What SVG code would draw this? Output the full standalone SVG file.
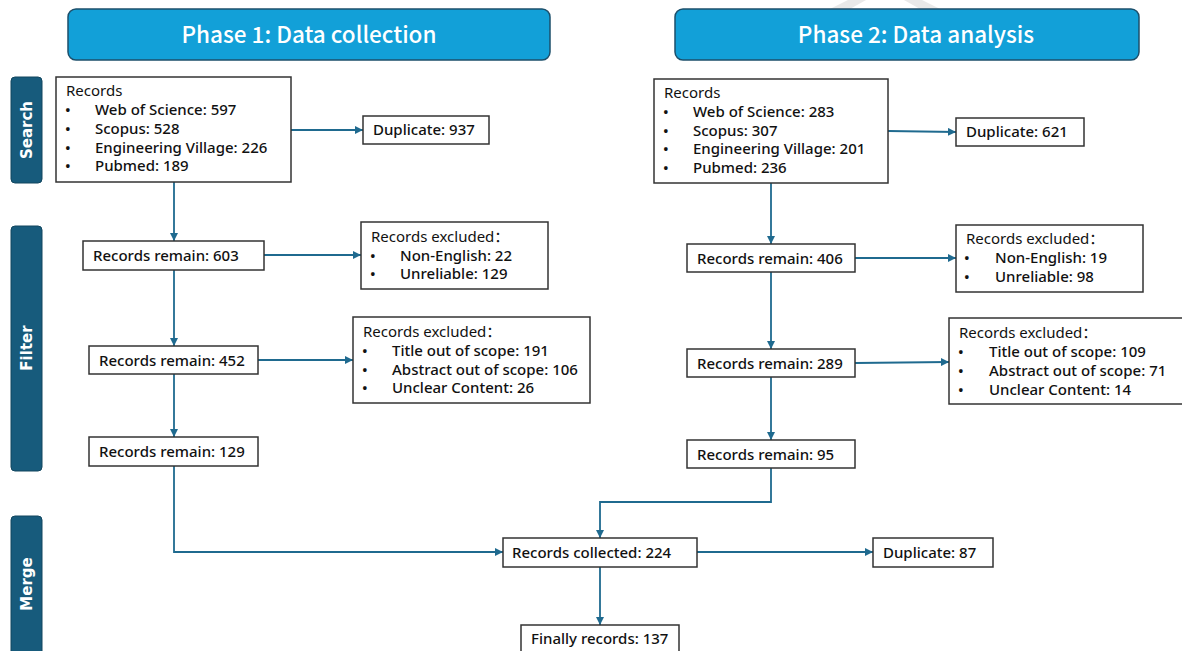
<svg xmlns="http://www.w3.org/2000/svg" width="1182" height="651" viewBox="0 0 1182 651">
<defs>
<marker id="ah" markerUnits="userSpaceOnUse" markerWidth="9" markerHeight="8" refX="8" refY="4" orient="auto">
<path d="M0,0 L8,4 L0,8 z" fill="#1f6a8f"/>
</marker>
<style>
.hdr{fill:#12a0d8;stroke:#1c4f6b;stroke-width:1.5}
.hdrt{font-family:"Noto Sans CJK SC","Noto Sans",sans-serif;font-size:22.5px;font-weight:500;fill:#ffffff;text-anchor:middle}
.side{fill:#175b7c;stroke:#12465f;stroke-width:1}
.sidet{font-family:"DejaVu Sans",sans-serif;font-size:15px;font-weight:bold;fill:#ffffff;text-anchor:middle}
.box{fill:#ffffff;stroke:#333333;stroke-width:1.5}
.t{font-family:"Noto Sans","Noto Sans CJK SC",sans-serif;font-size:15px;fill:#111111;font-weight:500}
.h{font-weight:400}
.con{fill:none;stroke:#1f6a8f;stroke-width:1.8;marker-end:url(#ah)}
.wm{fill:#e9e9e9}
</style>
</defs>
<rect width="1182" height="651" fill="#ffffff"/>
<g id="watermark">
<polygon class="wm" points="830,9 848,0 866,0 850,9"/>
<polygon class="wm" points="940,9 922,0 904,0 920,9"/>
</g>
<g id="phase1"><rect class="hdr" x="68" y="9" width="482" height="51" rx="8"/><text class="hdrt" x="309" y="43">Phase 1: Data collection</text></g>
<g id="phase2"><rect class="hdr" x="675" y="9" width="464" height="51" rx="8"/><text class="hdrt" x="916" y="43">Phase 2: Data analysis</text></g>
<g id="side-search"><rect class="side" x="11" y="77" width="31" height="106" rx="4"/><text class="sidet" transform="translate(32,130) rotate(-90)">Search</text></g>
<g id="side-filter"><rect class="side" x="11" y="226" width="31" height="245" rx="4"/><text class="sidet" transform="translate(32,348) rotate(-90)">Filter</text></g>
<g id="side-merge"><rect class="side" x="11" y="516" width="31" height="150" rx="4"/><text class="sidet" transform="translate(32,584) rotate(-90)">Merge</text></g>
<g id="connectors">
<path class="con" d="M291,130 H363"/>
<path class="con" d="M174,182 V241"/>
<path class="con" d="M264,255 H361"/>
<path class="con" d="M174,270 V346"/>
<path class="con" d="M258,360 H353"/>
<path class="con" d="M174,374 V437"/>
<path class="con" d="M174,466 V552 H503"/>
<path class="con" d="M888,131 L956,132"/>
<path class="con" d="M771,183 V244"/>
<path class="con" d="M855,258 H956"/>
<path class="con" d="M771,272 V349"/>
<path class="con" d="M855,363 L949,362"/>
<path class="con" d="M771,377 V440"/>
<path class="con" d="M771,468 V502 H600 V538"/>
<path class="con" d="M697,552 H873"/>
<path class="con" d="M600,567 V625"/>
</g>
<g id="records1"><rect class="box" x="56" y="77" width="235" height="105"/>
<text class="t"><tspan class="h" x="66" y="96">Records</tspan><tspan x="65" y="115">•</tspan><tspan x="95" y="115">Web of Science: 597</tspan><tspan x="65" y="134">•</tspan><tspan x="95" y="134">Scopus: 528</tspan><tspan x="65" y="153">•</tspan><tspan x="95" y="153">Engineering Village: 226</tspan><tspan x="65" y="171">•</tspan><tspan x="95" y="171">Pubmed: 189</tspan></text></g>
<g id="dup937"><rect class="box" x="363" y="116" width="126" height="28"/><text class="t" x="373" y="135">Duplicate: 937</text></g>
<g id="remain603"><rect class="box" x="83" y="241" width="181" height="29"/><text class="t" x="93" y="261">Records remain: 603</text></g>
<g id="excl1"><rect class="box" x="361" y="222" width="187" height="67"/>
<text class="t"><tspan class="h" x="371" y="242">Records excluded：</tspan><tspan x="370" y="261">•</tspan><tspan x="400" y="261">Non-English: 22</tspan><tspan x="370" y="279">•</tspan><tspan x="400" y="279">Unreliable: 129</tspan></text></g>
<g id="remain452"><rect class="box" x="89" y="346" width="169" height="28"/><text class="t" x="99" y="366">Records remain: 452</text></g>
<g id="excl2"><rect class="box" x="353" y="317" width="237" height="86"/>
<text class="t"><tspan class="h" x="363" y="337">Records excluded：</tspan><tspan x="362" y="356">•</tspan><tspan x="392" y="356">Title out of scope: 191</tspan><tspan x="362" y="375">•</tspan><tspan x="392" y="375">Abstract out of scope: 106</tspan><tspan x="362" y="393">•</tspan><tspan x="392" y="393">Unclear Content: 26</tspan></text></g>
<g id="remain129"><rect class="box" x="89" y="437" width="169" height="29"/><text class="t" x="99" y="457">Records remain: 129</text></g>
<g id="records2"><rect class="box" x="654" y="79" width="234" height="104"/>
<text class="t"><tspan class="h" x="664" y="98">Records</tspan><tspan x="663" y="117">•</tspan><tspan x="693" y="117">Web of Science: 283</tspan><tspan x="663" y="136">•</tspan><tspan x="693" y="136">Scopus: 307</tspan><tspan x="663" y="154">•</tspan><tspan x="693" y="154">Engineering Village: 201</tspan><tspan x="663" y="173">•</tspan><tspan x="693" y="173">Pubmed: 236</tspan></text></g>
<g id="dup621"><rect class="box" x="956" y="118" width="128" height="28"/><text class="t" x="966" y="137">Duplicate: 621</text></g>
<g id="remain406"><rect class="box" x="687" y="244" width="168" height="28"/><text class="t" x="697" y="264">Records remain: 406</text></g>
<g id="excl3"><rect class="box" x="956" y="225" width="187" height="67"/>
<text class="t"><tspan class="h" x="966" y="244">Records excluded：</tspan><tspan x="964" y="263">•</tspan><tspan x="995" y="263">Non-English: 19</tspan><tspan x="964" y="282">•</tspan><tspan x="995" y="282">Unreliable: 98</tspan></text></g>
<g id="remain289"><rect class="box" x="687" y="349" width="168" height="28"/><text class="t" x="697" y="369">Records remain: 289</text></g>
<g id="excl4"><rect class="box" x="949" y="318" width="234" height="86"/>
<text class="t"><tspan class="h" x="959" y="338">Records excluded：</tspan><tspan x="958" y="357">•</tspan><tspan x="989" y="357">Title out of scope: 109</tspan><tspan x="958" y="376">•</tspan><tspan x="989" y="376">Abstract out of scope: 71</tspan><tspan x="958" y="395">•</tspan><tspan x="989" y="395">Unclear Content: 14</tspan></text></g>
<g id="remain95"><rect class="box" x="687" y="440" width="168" height="28"/><text class="t" x="697" y="460">Records remain: 95</text></g>
<g id="collected"><rect class="box" x="503" y="538" width="194" height="29"/><text class="t" x="512" y="558">Records collected: 224</text></g>
<g id="dup87"><rect class="box" x="873" y="538" width="120" height="29"/><text class="t" x="883" y="558">Duplicate: 87</text></g>
<g id="final"><rect class="box" x="521" y="625" width="158" height="32"/><text class="t" x="531" y="644">Finally records: 137</text></g>
</svg>
